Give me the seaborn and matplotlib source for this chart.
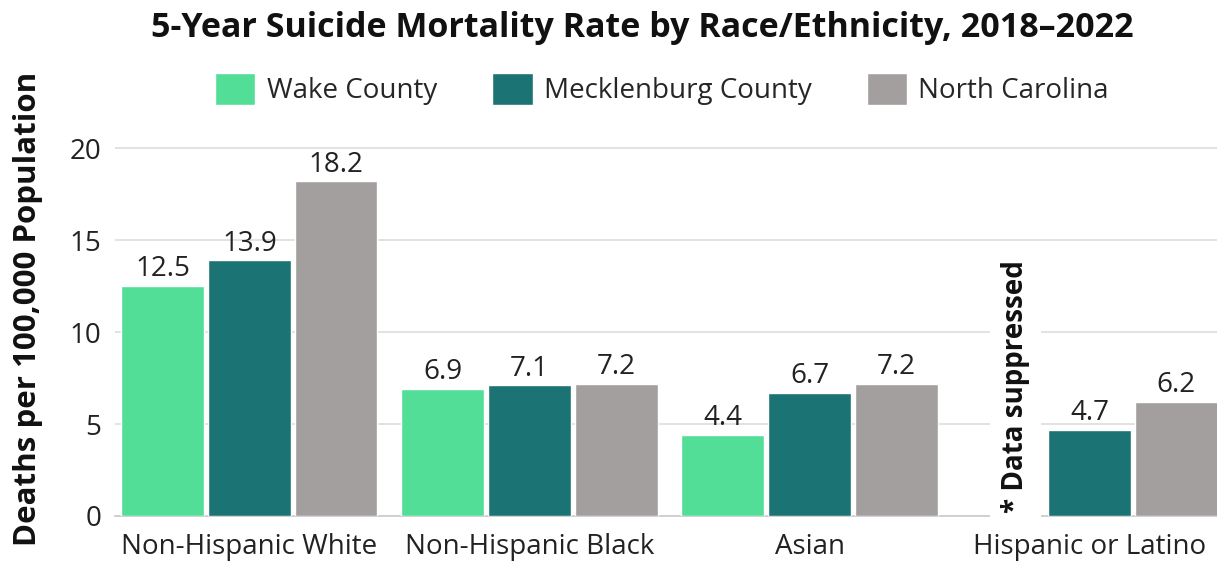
import numpy as np
import pandas as pd
import seaborn as sns
import matplotlib.pyplot as plt
from matplotlib.patches import Patch

categories = ["Non-Hispanic White", "Non-Hispanic Black", "Asian", "Hispanic or Latino"]
series = ["Wake County", "Mecklenburg County", "North Carolina"]
wake = [12.5, 6.9, 4.4, np.nan]
mecklenburg = [13.9, 7.1, 6.7, 4.7]
north_carolina = [18.2, 7.2, 7.2, 6.2]
colors = ["#52DE97", "#1C7373", "#A29F9E"]
yticks = [0, 5, 10, 15, 20]

sns.set_theme(style="white")
plt.rcParams["font.family"] = ["Open Sans", "DejaVu Sans"]

rows = []
for s, vals in zip(series, [wake, mecklenburg, north_carolina]):
    for c, v in zip(categories, vals):
        rows.append({"category": c, "series": s, "value": v})
df = pd.DataFrame(rows)

fig = plt.figure(figsize=(12.17, 5.65), dpi=100)
ax = fig.add_axes([115 / 1217, 49 / 565, 1 - 115 / 1217, (516 - 139) / 565])

sns.barplot(data=df, x="category", y="value", hue="series", order=categories,
            hue_order=series, palette=colors, width=0.93, gap=0.05,
            saturation=1, ax=ax, legend=False, zorder=3)

for cont in ax.containers:
    for bar in cont:
        if bar is None:
            continue
        h = bar.get_height()
        if np.isnan(h):
            continue
        ax.annotate(f"{h:.1f}", (bar.get_x() + bar.get_width() / 2, h),
                    xytext=(0, 2), textcoords="offset points", ha="center",
                    va="bottom", fontsize=20, color="#222222")

ax.set_ylim(0, 20.5)
ax.set_xlim(-0.48, 3.455)
ax.set_yticks(yticks)
ax.yaxis.grid(True, color="#DDDDDD", linewidth=1.2, zorder=0)
ax.set_axisbelow(True)
for sp in ["top", "right", "left"]:
    ax.spines[sp].set_visible(False)
ax.spines["bottom"].set_color("#CCCCCC")
ax.tick_params(axis="both", length=0, labelsize=20, colors="#222222")
ax.tick_params(axis="y", pad=10)
ax.tick_params(axis="x", pad=12)
ax.set_xlabel("")
ax.set_ylabel("Deaths per 100,000 Population", fontsize=22.5, fontweight="bold",
              color="#111111")
ax.yaxis.set_label_coords(-0.065, 0.55)

# suppressed note
ax.text(2.735, 0.15, "* Data suppressed", rotation=90, ha="center", va="bottom",
        fontsize=20, fontweight="bold", color="#111111", zorder=5,
        bbox=dict(facecolor="white", edgecolor="none", pad=8))

handles = [Patch(facecolor=c, label=s) for c, s in zip(colors, series)]
fig.legend(handles=handles, loc="center", bbox_to_anchor=(0.544, 1 - 89 / 565),
           ncol=3, frameon=False, fontsize=20, handlelength=1.45, handleheight=1.45,
           columnspacing=2.0, handletextpad=0.4)

fig.suptitle("5-Year Suicide Mortality Rate by Race/Ethnicity, 2018–2022",
             x=0.528, y=0.98, fontsize=24.5, fontweight="bold", color="#111111")

fig.savefig("out.png", dpi=100)
